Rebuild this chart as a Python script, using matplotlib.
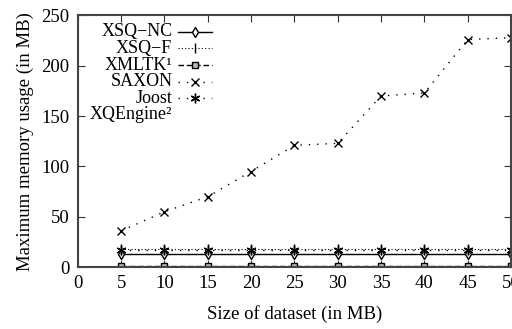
import matplotlib
matplotlib.use("Agg")
import matplotlib.pyplot as plt
from matplotlib.lines import Line2D

plt.rcParams['font.family'] = ['Liberation Serif', 'DejaVu Serif']

sizes = [5, 10, 15, 20, 25, 30, 35, 40, 45, 50]
xsq_nc = [13, 13, 13, 13, 13, 13, 13, 13, 13, 13]
xsq_f = [18, 18, 18, 18, 18, 18, 18, 18, 18, 18]
xmltk = [1, 1, 1, 1, 1, 1, 1, 1, 1, 1]
saxon = [36, 55, 70, 95, 121, 123, 170, 173, 226, 228]
joost = [17, 17, 17, 17, 17, 17, 17, 17, 17, 17]

labels = ['XSQ\u2212NC', 'XSQ\u2212F', 'XMLTK\u00b9', 'SAXON', 'Joost', 'XQEngine\u00b2']

FS = 13.5
LFS = 13
fig = plt.figure(figsize=(5.12, 3.29), dpi=100)
ax = fig.add_axes([0.152, 0.188, 0.846, 0.765])

styles = [
    dict(ls='-', marker='d', mfc='white', ms=5, lw=1.0),
    dict(ls=(0, (1, 2)), marker='|', ms=7, lw=0.8),
    dict(ls=(0, (4, 2)), marker='s', mfc='#bbbbbb', ms=5, lw=1.0),
    dict(ls=(0, (1, 5)), marker='x', ms=6, lw=1.0),
    dict(ls=(0, (1, 5)), marker=(6, 2, 0), ms=7, lw=1.0),
]
series = [xsq_nc, xsq_f, xmltk, saxon, joost]
for vals, st in zip(series, styles):
    ax.plot(sizes, vals, color='black', mec='black', **st)

ax.set_xlim(0, 50)
ax.set_ylim(0, 250)
ax.set_xticks(range(0, 51, 5))
ax.set_yticks(range(0, 251, 50))
ax.tick_params(direction='in', top=True, right=True, labelsize=FS, length=5, pad=6, color='#333333')
for s in ax.spines.values():
    s.set_color('#444444')
    s.set_linewidth(1.5)
ax.set_xlabel('Size of dataset (in MB)', fontsize=FS, labelpad=9)
ax.set_ylabel('Maximum memory usage (in MB)', fontsize=FS, labelpad=5)

# manual gnuplot-style legend
y0 = 0.935
dy = 0.066
tx = 0.218
lx0, lx1 = 0.232, 0.31
for i, lab in enumerate(labels):
    y = y0 - i * dy
    ax.text(tx, y, lab, transform=ax.transAxes, ha='right', va='center', fontsize=LFS)
    if i < len(styles):
        st = dict(styles[i])
        ln = Line2D([lx0, (lx0 + lx1) / 2, lx1], [y, y, y], transform=ax.transAxes,
                    color='black', mec='black', markevery=[1], **st)
        ax.add_line(ln)

fig.savefig('out.png', dpi=100)
